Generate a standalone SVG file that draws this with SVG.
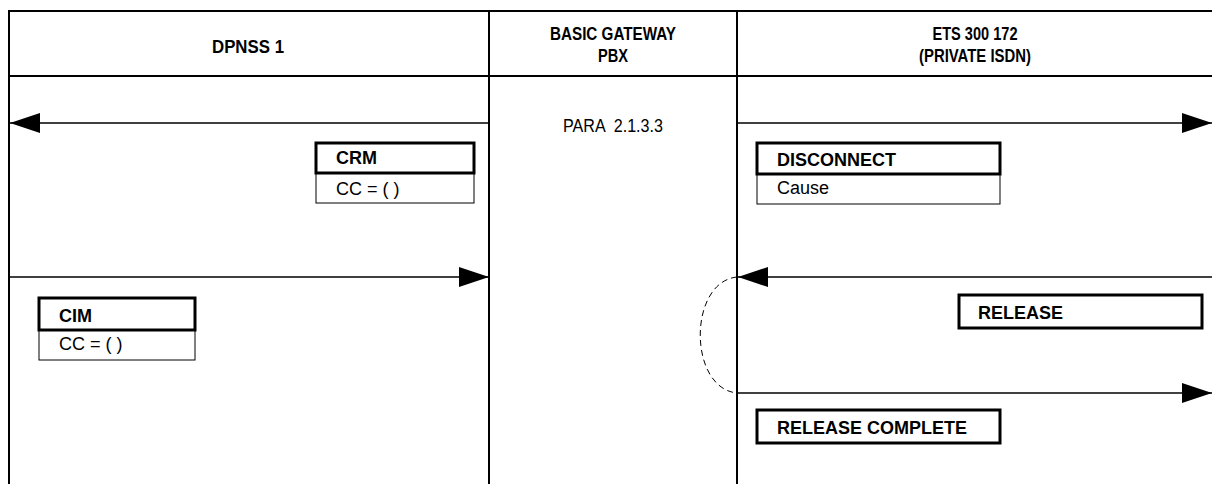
<svg xmlns="http://www.w3.org/2000/svg" width="1212" height="484" viewBox="0 0 1212 484">
<style>
.frame{stroke:#000;stroke-width:2;fill:none}
.msg{stroke:#000;stroke-width:1.5;fill:none}
.hdr{font-family:"Liberation Sans",Arial,sans-serif;font-size:18px;font-weight:bold;text-anchor:middle}
.lbl{font-family:"Liberation Sans",Arial,sans-serif;font-size:18px;font-weight:bold}
.par{font-family:"Liberation Sans",Arial,sans-serif;font-size:18px}
.thick{fill:#fff;stroke:#000;stroke-width:3}
.thin{fill:#fff;stroke:#000;stroke-width:1}
</style>
<defs>
<marker id="ah" viewBox="0 0 30 20" refX="30" refY="10" markerWidth="30" markerHeight="20" markerUnits="userSpaceOnUse" orient="auto">
<path d="M0,0 L30,10 L0,20 Z" fill="#000"/>
</marker>
</defs>
<rect width="1212" height="484" fill="#fff"/>
<g id="frame">
<path class="frame" d="M9,484 V11 H1212 M9,76 H1212 M489,11 V484 M737,11 V484"/>
</g>
<g id="headers">
<text class="hdr" x="248" y="53" textLength="72" lengthAdjust="spacingAndGlyphs">DPNSS 1</text>
<text class="hdr" x="613" y="40" textLength="126" lengthAdjust="spacingAndGlyphs">BASIC GATEWAY</text>
<text class="hdr" x="613" y="62" textLength="30" lengthAdjust="spacingAndGlyphs">PBX</text>
<text class="hdr" x="975" y="40" textLength="85" lengthAdjust="spacingAndGlyphs">ETS 300 172</text>
<text class="hdr" x="975" y="62" textLength="112" lengthAdjust="spacingAndGlyphs">(PRIVATE ISDN)</text>
<text class="par" x="613" y="132" text-anchor="middle" xml:space="preserve" style="white-space:pre" textLength="100" lengthAdjust="spacingAndGlyphs">PARA  2.1.3.3</text>
</g>
<g id="connectors">
<line class="msg" x1="489" y1="123" x2="10" y2="123" marker-end="url(#ah)"/>
<line class="msg" x1="737" y1="123" x2="1212" y2="123" marker-end="url(#ah)"/>
<line class="msg" x1="9" y1="277" x2="489" y2="277" marker-end="url(#ah)"/>
<line class="msg" x1="1212" y1="277" x2="738" y2="277" marker-end="url(#ah)"/>
<line class="msg" x1="737" y1="393" x2="1212" y2="393" marker-end="url(#ah)"/>
<path d="M737,277 C688,282 688,388 737,393" fill="none" stroke="#000" stroke-width="1" stroke-dasharray="6,4"/>
</g>
<g id="crm">
<rect class="thin" x="316" y="173" width="158" height="30"/>
<rect class="thick" x="316" y="143" width="158" height="30"/>
<text class="lbl" x="336" y="164">CRM</text>
<text class="par" x="336" y="195">CC = ( )</text>
</g>
<g id="disconnect">
<rect class="thin" x="757" y="174" width="243" height="30"/>
<rect class="thick" x="757" y="143" width="243" height="31"/>
<text class="lbl" x="777" y="166">DISCONNECT</text>
<text class="par" x="777" y="194">Cause</text>
</g>
<g id="cim">
<rect class="thin" x="39" y="330" width="156" height="30"/>
<rect class="thick" x="39" y="298" width="156" height="32"/>
<text class="lbl" x="59" y="322">CIM</text>
<text class="par" x="59" y="350">CC = ( )</text>
</g>
<g id="release">
<rect class="thick" x="959" y="295" width="243" height="33"/>
<text class="lbl" x="978" y="319">RELEASE</text>
</g>
<g id="release-complete">
<rect class="thick" x="757" y="410" width="243" height="33"/>
<text class="lbl" x="777" y="434">RELEASE COMPLETE</text>
</g>
</svg>
